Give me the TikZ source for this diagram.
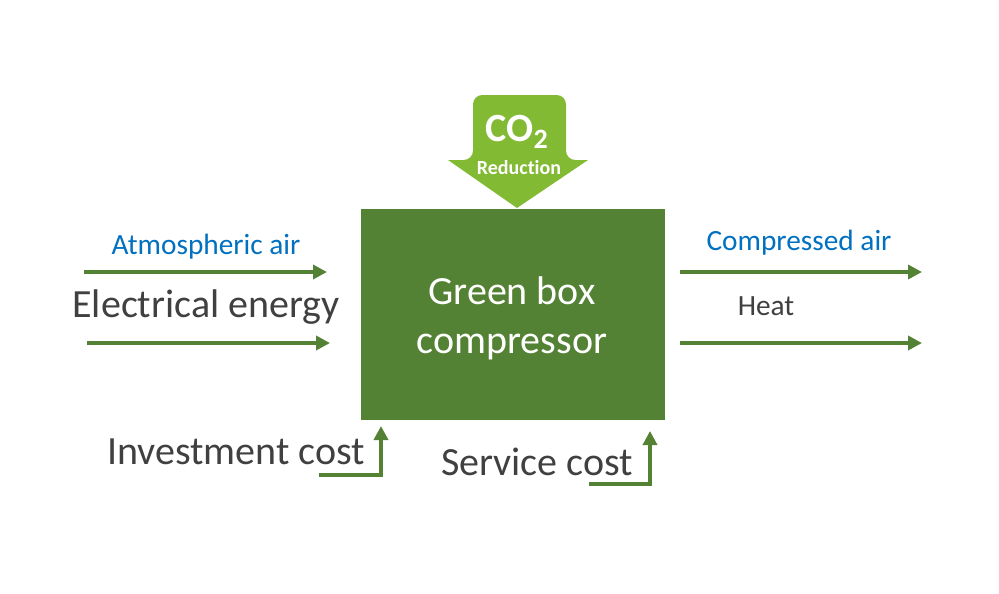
\documentclass[tikz,border=0pt]{standalone}
\usepackage{fontspec}
\setmainfont{Carlito}[Ligatures = NoCommon]
\usetikzlibrary{arrows.meta}
\definecolor{boxgreen}{RGB}{84,130,53}
\definecolor{limegreen}{RGB}{130,186,52}
\definecolor{airblue}{RGB}{0,112,192}
\definecolor{textgray}{RGB}{64,64,64}

\begin{document}
\begin{tikzpicture}[x = 0.75pt, y = -0.75pt,
                    flow/.style = {draw = boxgreen, line width = 3pt, -{Triangle[length = 10.5pt, width = 10.5pt]}},
                    big/.style = {text = textgray, font = \fontsize{30}{36}\selectfont, inner sep = 0pt},
                    small/.style = {text = textgray, font = \fontsize{22}{26}\selectfont, inner sep = 0pt},
                    air/.style = {small, text = airblue}]
  \useasboundingbox (0, 0) rectangle (999, 593);
  % compressor box and CO2 arrow
  \fill [limegreen, rounded corners = 7pt] (448, 160) -- (473, 160) -- (473, 95) -- (566, 95) -- (566, 160) [sharp corners] -- (588, 160) -- (517, 208) -- cycle;
  \node [fill = boxgreen, minimum width = 228pt, minimum height = 158pt, inner sep = 0pt] (C) at (513, 314.5) {};
  \node [text = white, font = \fontsize{30}{36}\selectfont, align = center] (G) at (512, 318) {Green box\\[1pt]compressor};
  \node [text = white, font = \bfseries\fontsize{30}{36}\selectfont, inner sep = 0pt] (CO) at (517, 132) {CO\textsubscript{2}};
  \node [text = white, font = \bfseries\fontsize{15}{18}\selectfont, inner sep = 0pt] (R) at (519, 168) {Reduction};
  % inputs
  \coordinate (A1) at (84, 272);
  \coordinate (A2) at (327, 272);
  \coordinate (E1) at (87, 343);
  \coordinate (E2) at (330, 343);
  \node [air] (TA) at (206, 247) {Atmospheric air};
  \node [big] (TE) at (206, 307) {Electrical energy};
  \draw [flow] (A1) -- (A2);
  \draw [flow] (E1) -- (E2);
  % outputs
  \coordinate (P1) at (680, 272);
  \coordinate (P2) at (922, 272);
  \coordinate (H1) at (680, 343);
  \coordinate (H2) at (922, 343);
  \node [air] (TP) at (799, 243) {Compressed air};
  \node [small] (TH) at (766, 306) {Heat};
  \draw [flow] (P1) -- (P2);
  \draw [flow] (H1) -- (H2);
  % costs
  \coordinate (I1) at (319, 475);
  \coordinate (I2) at (381, 475);
  \coordinate (I3) at (381, 426);
  \coordinate (S1) at (589, 484);
  \coordinate (S2) at (650, 484);
  \coordinate (S3) at (650, 431);
  \node [big] (TI) at (236, 452) {Investment cost};
  \node [big] (TS) at (537, 462) {Service cost};
  \draw [flow] (I1) -- (I2) -- (I3);
  \draw [flow] (S1) -- (S2) -- (S3);
\end{tikzpicture}
\end{document}
